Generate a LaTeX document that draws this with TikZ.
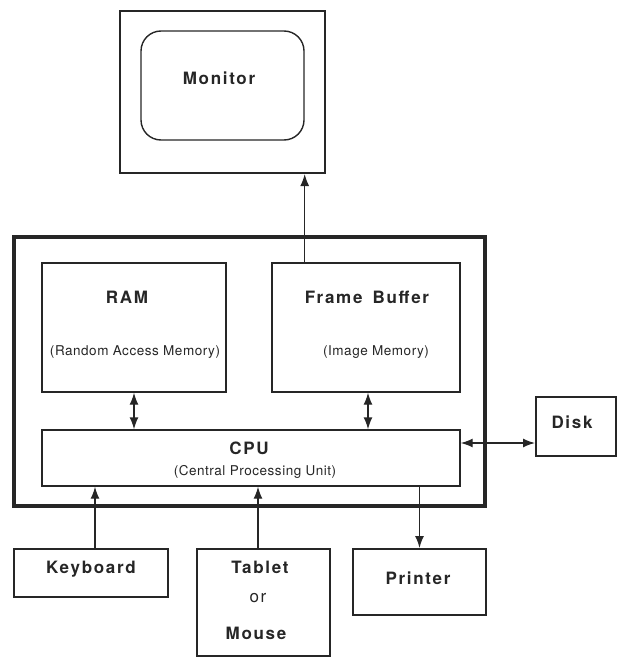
\documentclass[tikz,border=0pt]{standalone}
\usepackage{fontspec}
\setmainfont{TeX Gyre Heros}
\newfontfamily\lblfont[LetterSpace=10]{TeX Gyre Heros}
\newfontfamily\subfont[LetterSpace=4]{TeX Gyre Heros}
\usetikzlibrary{arrows.meta}
\colorlet{ink}{black!85}
\tikzset{
  box/.style={draw=ink,line width=2pt,inner sep=0pt},
  unit/.style={draw=ink,line width=1.4pt,inner sep=0pt},
  lbl/.style={text=ink,inner sep=0pt,font=\fontsize{17}{20}\selectfont\lblfont\bfseries},
  sub/.style={text=ink,inner sep=0pt,font=\fontsize{13.5}{16}\selectfont\subfont},
  arr/.style={draw=ink,line width=1.4pt,-{Latex[length=12pt,width=9pt]}},
  darr/.style={draw=ink,line width=1.4pt,{Latex[length=12pt,width=9pt]}-{Latex[length=12pt,width=9pt]}},
}
\begin{document}
\begin{tikzpicture}[x=1pt,y=-1pt]
\useasboundingbox (0,0) rectangle (618,658);
% monitor
\node[box,minimum width=205pt,minimum height=162pt] (monitor) at (222.5,92) {};
\node[unit,rounded corners=20pt,minimum width=163pt,minimum height=109pt] (screen) at (222.5,85.5) {};
\node[lbl] (monlbl) at (219,78) {Monitor};
% computer
\node[draw=ink,line width=3.2pt,inner sep=0pt,minimum width=471pt,minimum height=269pt] (sys) at (249.5,371.5) {};
\node[unit,minimum width=184pt,minimum height=129pt] (ram) at (134,327.5) {};
\node[unit,minimum width=188pt,minimum height=129pt] (fb) at (366,327.5) {};
\node[unit,minimum width=418pt,minimum height=56pt] (cpu) at (251,458) {};
\node[lbl] (ramlbl) at (127,297) {RAM};
\node[sub] (ramsub) at (135,352) {(Random Access Memory)};
\node[lbl] (fblbl) at (367,297) {Frame\hspace{0.6em}Buffer};
\node[sub] (fbsub) at (376,352) {(Image Memory)};
\node[lbl] (cpulbl) at (249,448) {CPU};
\node[sub] (cpusub) at (255,472) {(Central Processing Unit)};
% devices
\node[box,minimum width=80pt,minimum height=59pt] (disk) at (576,426.5) {};
\node[lbl] (disklbl) at (572,422) {Disk};
\node[box,minimum width=154pt,minimum height=48pt] (kbd) at (91,573) {};
\node[lbl] (kbdlbl) at (91,569) {Keyboard};
\node[box,minimum width=133pt,minimum height=107pt] (tablet) at (263.5,602.5) {};
\node[lbl] (tablbl) at (260,567) {Tablet};
\node[lbl,font=\fontsize{17}{20}\selectfont\lblfont] (orlbl) at (258,598) {or};
\node[lbl] (mouselbl) at (256,633) {Mouse};
\node[box,minimum width=133pt,minimum height=66pt] (printer) at (419.5,582) {};
\node[lbl] (prnlbl) at (418,578) {Printer};
% connectors
\draw[arr] (fb.north -| screen.east) -- (monitor.south -| screen.east);
\draw[darr] (ram.south) -- (ram.south |- cpu.north);
\draw[darr] ([xshift=2pt]fb.south) -- ([xshift=2pt]fb.south |- cpu.north);
\draw[darr] ([yshift=15pt]cpu.east) -- ([yshift=15pt]cpu.east -| disk.west);
\draw[arr] ([xshift=4pt]kbd.north) -- ([xshift=4pt]kbd.north |- cpu.south);
\draw[arr] ([xshift=-5.5pt]tablet.north) -- ([xshift=-5.5pt]tablet.north |- cpu.south);
\draw[arr] (printer.north |- cpu.south) -- (printer.north);
\end{tikzpicture}
\end{document}
